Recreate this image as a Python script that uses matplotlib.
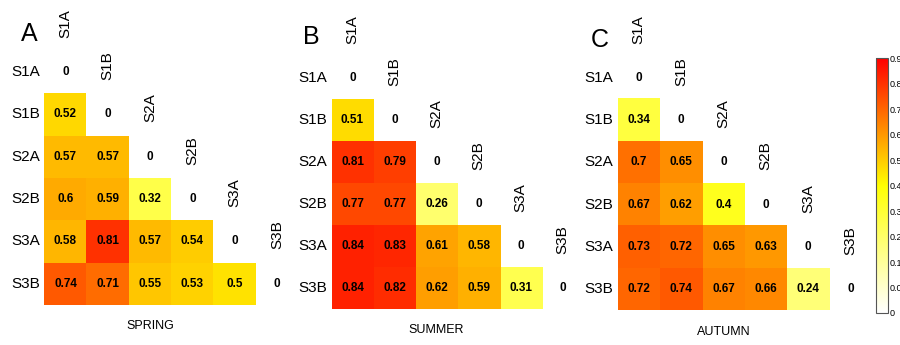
import numpy as np
import matplotlib
matplotlib.use("Agg")
import matplotlib.pyplot as plt
from matplotlib.colors import LinearSegmentedColormap
from matplotlib.cm import ScalarMappable
from matplotlib.colors import Normalize

plt.rcParams['font.family'] = ['Liberation Sans', 'DejaVu Sans']

sites = ["S1A", "S1B", "S2A", "S2B", "S3A", "S3B"]
seasons = ["SPRING", "SUMMER", "AUTUMN"]
letters = ["A", "B", "C"]

# lower triangle rows (below diagonal), row i has i values
spring = [[], [0.52], [0.57, 0.57], [0.6, 0.59, 0.32],
          [0.58, 0.81, 0.57, 0.54], [0.74, 0.71, 0.55, 0.53, 0.5]]
summer = [[], [0.51], [0.81, 0.79], [0.77, 0.77, 0.26],
          [0.84, 0.83, 0.61, 0.58], [0.84, 0.82, 0.62, 0.59, 0.31]]
autumn = [[], [0.34], [0.7, 0.65], [0.67, 0.62, 0.4],
          [0.73, 0.72, 0.65, 0.63], [0.72, 0.74, 0.67, 0.66, 0.24]]
panels = [spring, summer, autumn]

cbar_ticks = [0, 0.09, 0.18, 0.27, 0.36, 0.45, 0.54, 0.63, 0.72, 0.81, 0.9]

cmap = LinearSegmentedColormap.from_list("wyr", ["#FFFFFF", "#FFFF00", "#FF0000"])
norm = Normalize(0, 0.9)

W, H = 900, 345
fig = plt.figure(figsize=(9, 3.45), dpi=100)


def px_axes(left, top, w, h):
    return fig.add_axes([left / W, 1 - (top + h) / H, w / W, h / H])


# pixel placement of each panel (left edge of cells, top of label row, cell size)
layout = [(44.3, 8.7, 42.3), (331.5, 15.0, 42.0), (617.7, 14.4, 42.3)]
letter_pos = [(29, 34), (311, 37), (600, 40)]

n = len(sites)
for k, data in enumerate(panels):
    left, top, cs = layout[k]
    ax = px_axes(left, top, cs * n, cs * (n + 1))
    m = np.full((n, n), np.nan)
    for i, row in enumerate(data):
        for j, v in enumerate(row):
            m[i, j] = v
    ax.imshow(np.ma.masked_invalid(m), cmap=cmap, norm=norm, aspect="auto",
              extent=(-0.5, n - 0.5, n - 0.5, -0.5), interpolation="nearest")
    ax.set_xlim(-0.5, n - 0.5)
    ax.set_ylim(n - 0.5, -1.5)
    ax.axis("off")
    for i in range(n):
        ax.text(i, i, "0", ha="center", va="center", fontsize=8.5, fontweight="bold")
        for j, v in enumerate(data[i]):
            ax.text(j, i, f"{v:g}", ha="center", va="center", fontsize=8.5, fontweight="bold")
        ax.text(-0.6, i, sites[i], ha="right", va="center", fontsize=11, clip_on=False)
        ax.text(i, i - 1 - 0.15, sites[i], ha="center", va="center", rotation=90,
                fontsize=11, clip_on=False)
    ax.text(2, n - 0.5 + 0.5, seasons[k], ha="center", va="center", fontsize=9, clip_on=False)
    lx, ly = letter_pos[k]
    fig.text(lx / W, 1 - ly / H, letters[k], ha="center", va="center", fontsize=18)

cax = px_axes(876, 58, 12, 255)
cb = fig.colorbar(ScalarMappable(norm=norm, cmap=cmap), cax=cax, ticks=cbar_ticks)
cb.ax.set_yticklabels([f"{t:g}" for t in cbar_ticks])
cb.ax.tick_params(labelsize=6.5, length=0, pad=1)
cb.outline.set_edgecolor("#555555")
cb.outline.set_linewidth(0.8)

fig.savefig("out.png", dpi=100)
